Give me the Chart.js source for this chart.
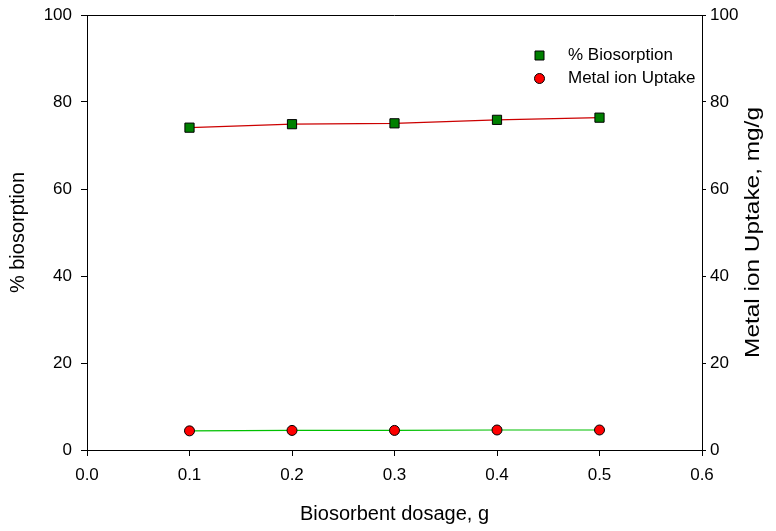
<!DOCTYPE html>
<html>
<head>
<meta charset="utf-8">
<script src="https://cdn.jsdelivr.net/npm/chart.js@4"></script>
<style>
  html, body { margin: 0; padding: 0; background: #fff; }
  #wrap { width: 776px; height: 531px; }
</style>
</head>
<body>
<div id="wrap"><canvas id="myChart" width="776" height="531"></canvas></div>
<script>
// data
const dosage = [0.1, 0.2, 0.3, 0.4, 0.5];
const biosorption = [74.1, 74.9, 75.1, 75.9, 76.4];
const uptake = [4.4, 4.5, 4.5, 4.6, 4.6];
const xTicks = [0.0, 0.1, 0.2, 0.3, 0.4, 0.5, 0.6];
const yTicks = [0, 20, 40, 60, 80, 100];

const fontName = "Arial, 'Liberation Sans', sans-serif";

// frame, legend and right title drawn by hand
const extras = {
  id: 'extras',
  afterDraw(chart) {
    const ctx = chart.ctx;
    const a = chart.chartArea;
    ctx.save();
    ctx.strokeStyle = '#000';
    ctx.lineWidth = 1;
    ctx.beginPath();
    ctx.moveTo(a.left, a.top + 0.5);
    ctx.lineTo(a.right, a.top + 0.5);
    ctx.stroke();

    // legend
    const items = chart.data.datasets;
    ctx.font = '17px ' + fontName;
    ctx.textBaseline = 'middle';
    items.forEach((ds, i) => {
      const y = 55.5 + i * 23;
      ctx.fillStyle = ds.pointBackgroundColor;
      ctx.strokeStyle = '#000';
      ctx.lineWidth = 1;
      ctx.beginPath();
      if (ds.pointStyle === 'rect') {
        ctx.rect(535, y - 4.5, 9, 9);
      } else {
        ctx.arc(539.5, y, 5, 0, Math.PI * 2);
      }
      ctx.fill();
      ctx.stroke();
      ctx.fillStyle = '#000';
      ctx.fillText(ds.label, 568, y);
    });

    // right title, reads bottom to top (a bit stretched like the original)
    ctx.translate(753, (a.top + a.bottom) / 2);
    ctx.rotate(-Math.PI / 2);
    ctx.scale(1.22, 1);
    ctx.textAlign = 'center';
    ctx.font = '20px ' + fontName;
    ctx.fillText('Metal ion Uptake, mg/g', 0, 0);
    ctx.restore();
  }
};

// y axes: fixed width, no extra room for the label overhang
const fixY = w => s => { s.width = w; s.paddingTop = 0; s.paddingBottom = 0; };

const config = {
  type: 'line',
  data: {
    datasets: [{
      label: '% Biosorption',
      data: dosage.map((x, i) => ({ x: x, y: biosorption[i] })),
      borderColor: '#cc0000',
      borderWidth: 1.2,
      pointStyle: 'rect',
      pointRadius: 6.5,
      pointBackgroundColor: '#008000',
      pointBorderColor: '#000',
      pointBorderWidth: 1,
      tension: 0,
      yAxisID: 'y'
    }, {
      label: 'Metal ion Uptake',
      data: dosage.map((x, i) => ({ x: x, y: uptake[i] })),
      borderColor: '#00c000',
      borderWidth: 1.2,
      pointStyle: 'circle',
      pointRadius: 5,
      pointBackgroundColor: '#ff0000',
      pointBorderColor: '#000',
      pointBorderWidth: 1,
      tension: 0,
      yAxisID: 'y1'
    }]
  },
  options: {
    responsive: false,
    animation: false,
    layout: { padding: { top: 15, left: 0, right: 0, bottom: 0 } },
    plugins: {
      legend: { display: false },
      tooltip: { enabled: false }
    },
    scales: {
      x: {
        type: 'linear',
        min: 0, max: 0.6,
        afterBuildTicks: s => { s.ticks = xTicks.map(v => ({ value: v })); },
        afterFit: s => { s.height = 81; },
        border: { display: true, color: '#000', width: 1 },
        grid: { drawOnChartArea: false, color: '#000', tickLength: 6 },
        ticks: {
          color: '#000', font: { size: 17, family: fontName }, padding: 9,
          maxRotation: 0,
          callback: v => Number(v).toFixed(1)
        },
        title: {
          display: true, text: 'Biosorbent dosage, g', color: '#000',
          font: { size: 20, family: fontName }, padding: { top: 0, bottom: 5 }
        }
      },
      y: {
        position: 'left',
        min: 0, max: 100,
        afterBuildTicks: s => { s.ticks = yTicks.map(v => ({ value: v })); },
        afterFit: fixY(87),
        border: { display: true, color: '#000', width: 1 },
        grid: { drawOnChartArea: false, color: '#000', tickLength: 6 },
        ticks: { color: '#000', font: { size: 17, family: fontName }, padding: 9 },
        title: {
          display: true, text: '% biosorption', color: '#000',
          font: { size: 20, family: fontName }, padding: { top: 6, bottom: 0 }
        }
      },
      y1: {
        position: 'right',
        min: 0, max: 100,
        afterBuildTicks: s => { s.ticks = yTicks.map(v => ({ value: v })); },
        afterFit: fixY(74),
        border: { display: true, color: '#000', width: 1 },
        grid: { drawOnChartArea: false, color: '#000', tickLength: 4 },
        ticks: { color: '#000', font: { size: 17, family: fontName }, padding: 4 }
      }
    }
  },
  plugins: [extras]
};

new Chart(document.getElementById('myChart').getContext('2d'), config);
</script>
</body>
</html>
